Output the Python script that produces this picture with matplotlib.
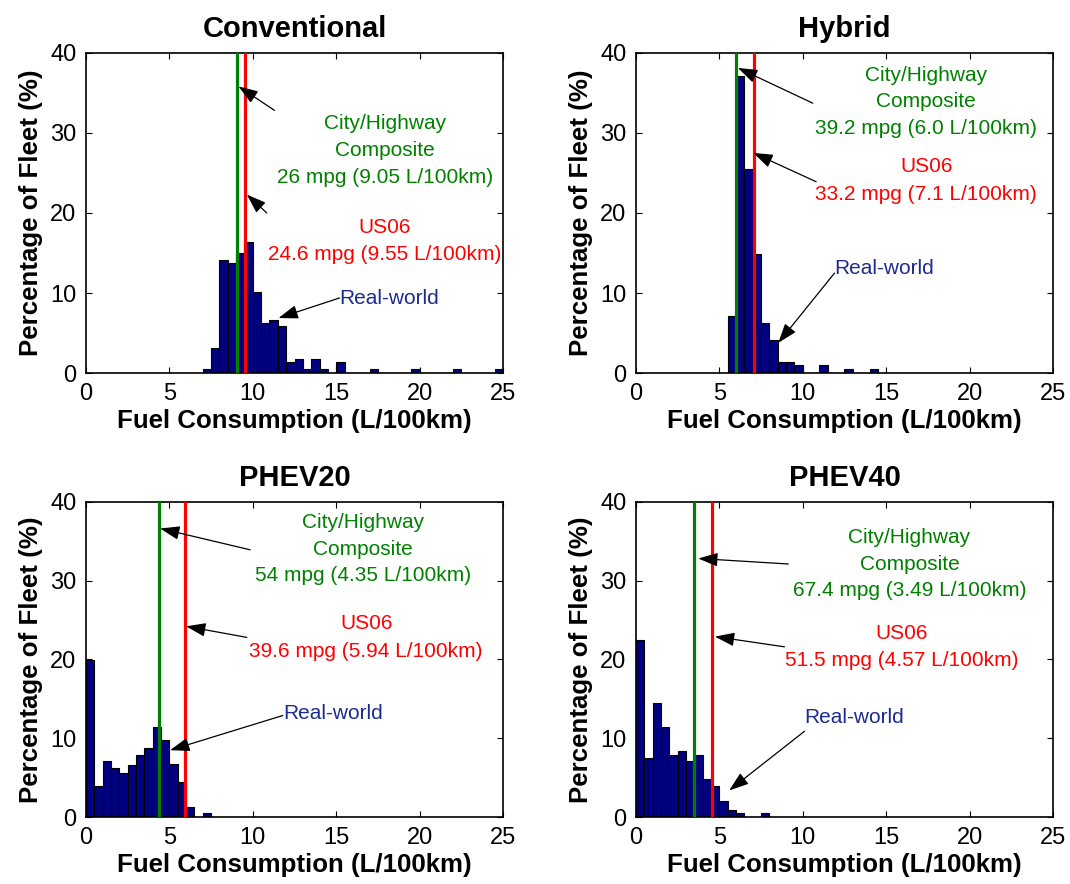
import matplotlib
matplotlib.use("Agg")
import matplotlib.pyplot as plt

plt.rcParams["font.family"] = ["Liberation Sans", "DejaVu Sans"]

BIN_WIDTH = 0.5

# histogram bins: left edge (L/100km) and share of fleet (%)
CONV_BINS = [7.0, 7.5, 8.0, 8.5, 9.0, 9.5, 10.0, 10.5, 11.0, 11.5, 12.0, 12.5,
             13.0, 13.5, 14.0, 15.0, 17.0, 19.5, 22.0, 24.5]
CONV_PCT = [0.55, 3.2, 14.1, 13.7, 15.0, 16.4, 10.1, 6.3, 6.65, 5.9, 1.4, 1.8,
            0.55, 1.8, 0.55, 1.4, 0.55, 0.55, 0.55, 0.55]

HYB_BINS = [5.5, 6.0, 6.5, 7.0, 7.5, 8.0, 8.5, 9.0, 9.5, 11.0, 12.5, 14.0]
HYB_PCT = [7.1, 37.1, 25.5, 14.9, 6.3, 4.1, 1.45, 1.45, 1.0, 1.0, 0.6, 0.6]

P20_BINS = [0.0, 0.5, 1.0, 1.5, 2.0, 2.5, 3.0, 3.5, 4.0, 4.5, 5.0, 5.5, 6.0, 7.0]
P20_PCT = [19.9, 4.0, 7.1, 6.3, 5.6, 6.65, 7.9, 8.75, 11.4, 9.8, 6.7, 4.45, 1.35, 0.5]

P40_BINS = [0.0, 0.5, 1.0, 1.5, 2.0, 2.5, 3.0, 3.5, 4.0, 4.5, 5.0, 5.5, 6.0, 7.5]
P40_PCT = [22.5, 7.5, 14.5, 11.4, 7.9, 8.4, 7.1, 7.9, 4.8, 4.0, 2.1, 0.93, 0.5, 0.5]

TITLES = ["Conventional", "Hybrid", "PHEV20", "PHEV40"]
CITY_LPK = [9.05, 6.0, 4.35, 3.49]
US06_LPK = [9.55, 7.1, 5.94, 4.57]
CITY_TEXT = ["26 mpg (9.05 L/100km)", "39.2 mpg (6.0 L/100km)",
             "54 mpg (4.35 L/100km)", "67.4 mpg (3.49 L/100km)"]
US06_TEXT = ["24.6 mpg (9.55 L/100km)", "33.2 mpg (7.1 L/100km)",
             "39.6 mpg (5.94 L/100km)", "51.5 mpg (4.57 L/100km)"]

X_TICKS = [0, 5, 10, 15, 20, 25]
Y_TICKS = [0, 10, 20, 30, 40]

GREEN = "#008000"
RED = "#ff0000"
NAVY = "#000080"
BLUE_TEXT = "#1c2b8f"

# label layout per panel: city x, city line ys, us06 x, us06 line ys, real-world (x, y)
CITY_X = [17.9, 17.4, 16.6, 16.4]
CITY_Y = [(31.2, 27.8, 24.4), (37.2, 33.9, 30.5), (37.4, 34.0, 30.6), (35.4, 32.0, 28.7)]
US06_X = [17.9, 17.4, 16.8, 15.95]
US06_Y = [(18.2, 14.8), (25.8, 22.3), (24.5, 21.0), (23.3, 19.9)]
REAL_XY = [(18.2, 9.3), (14.9, 13.1), (14.8, 13.1), (13.1, 12.7)]

# arrows per panel: city (tip, tail), us06 (tip, tail), real-world (tip, tail)
ARROWS = [
    [((9.14, 35.8), (11.3, 32.8)), ((9.64, 22.3), (10.84, 20.0)), ((11.54, 6.9), (15.2, 9.4))],
    [((6.11, 38.1), (10.6, 33.7)), ((7.03, 27.5), (10.8, 23.9)), ((8.53, 3.8), (11.9, 12.5))],
    [((4.44, 36.6), (9.84, 33.9)), ((6.0, 24.2), (9.64, 22.8)), ((5.04, 8.5), (11.8, 12.9))],
    [((3.73, 32.8), (9.13, 32.1)), ((4.73, 22.9), (8.9, 21.6)), ((5.59, 3.4), (10.1, 10.9))],
]

AX_RECTS = [
    [0.0804, 0.5777, 0.3897, 0.3627],
    [0.5944, 0.5777, 0.3897, 0.3627],
    [0.0804, 0.0755, 0.3897, 0.3570],
    [0.5944, 0.0755, 0.3897, 0.3570],
]


def draw_panel(ax, i, bins, pct):
    ax.bar(bins, pct, width=BIN_WIDTH, align="edge", color=NAVY,
           edgecolor="black", linewidth=0.8, zorder=2)
    ax.axvline(CITY_LPK[i], color=GREEN, linewidth=2.3, zorder=3)
    ax.axvline(US06_LPK[i], color=RED, linewidth=2.3, zorder=3)

    city_lines = ["City/Highway", "Composite", CITY_TEXT[i]]
    for line, y in zip(city_lines, CITY_Y[i]):
        ax.text(CITY_X[i], y, line, color=GREEN, ha="center", va="center",
                fontsize=15, zorder=4)
    for line, y in zip(["US06", US06_TEXT[i]], US06_Y[i]):
        ax.text(US06_X[i], y, line, color=RED, ha="center", va="center",
                fontsize=15, zorder=4)
    rx, ry = REAL_XY[i]
    ax.text(rx, ry, "Real-world", color=BLUE_TEXT, ha="center", va="center",
            fontsize=15, zorder=4)

    for tip, tail in ARROWS[i]:
        ax.annotate("", xy=tip, xytext=tail,
                    arrowprops=dict(arrowstyle="-|>,head_length=1.2,head_width=0.42",
                                    color="black", linewidth=0.9, shrinkA=0, shrinkB=0),
                    zorder=5)

    ax.set_xlim(0, 25)
    ax.set_ylim(0, 40)
    ax.set_xticks(X_TICKS)
    ax.set_yticks(Y_TICKS)
    ax.tick_params(direction="in", top=True, right=True, length=4, width=0.8,
                   labelsize=17, pad=7)
    for spine in ax.spines.values():
        spine.set_linewidth(1.2)
    ax.set_title(TITLES[i], fontsize=21, fontweight="bold", pad=11)
    ax.set_xlabel("Fuel Consumption (L/100km)", fontsize=18.6, fontweight="bold", labelpad=3)
    ax.set_ylabel("Percentage of Fleet (%)", fontsize=18.6, fontweight="bold", labelpad=5)


def main() -> None:
    fig = plt.figure(figsize=(10.7, 8.84), dpi=100)
    data = [(CONV_BINS, CONV_PCT), (HYB_BINS, HYB_PCT),
            (P20_BINS, P20_PCT), (P40_BINS, P40_PCT)]
    for i, (bins, pct) in enumerate(data):
        ax = fig.add_axes(AX_RECTS[i])
        draw_panel(ax, i, bins, pct)
    fig.savefig("out.png", dpi=100, facecolor="white")
    plt.close(fig)


if __name__ == "__main__":
    main()
